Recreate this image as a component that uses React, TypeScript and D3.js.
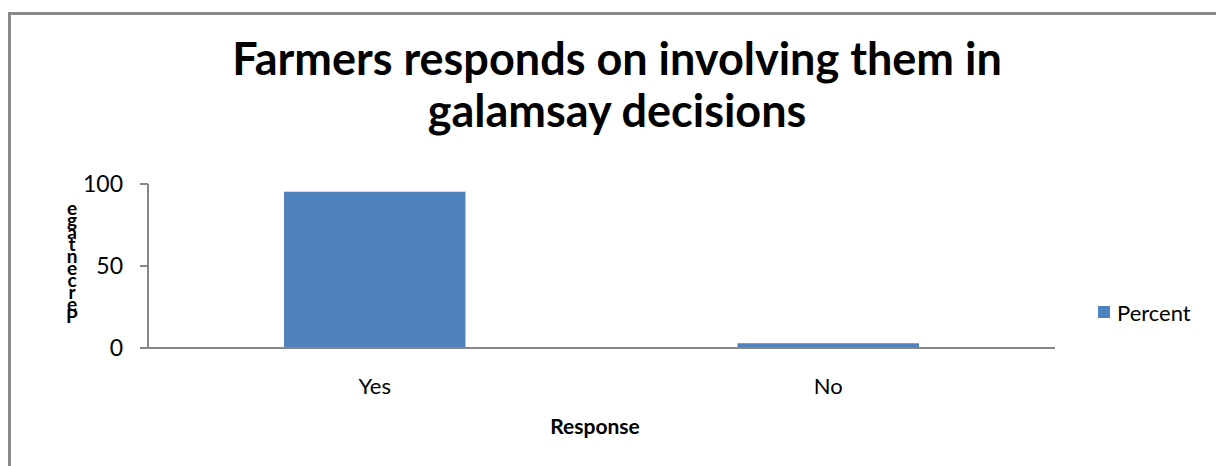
import React from "react";
import * as d3 from "d3";

const categories = ["Yes", "No"];
const percentValues = [95.3, 2.9];
const yTicks = [0, 50, 100];
const titleLines = ["Farmers responds on involving them in", "galamsay decisions"];
const yLabel = "Percentage";
const xLabel = "Response";
const seriesName = "Percent";

export default function App() {
  const W = 1216, H = 466;
  const left = 148, right = 1055, top = 184, bottom = 348;
  const x = d3.scaleBand<string>().domain(categories).range([left, right]).paddingInner(0.6).paddingOuter(0.3);
  const y = d3.scaleLinear().domain([0, 100]).range([bottom, top]);
  const font = "Lato, 'Open Sans', sans-serif";
  const axisColor = "#868686";
  const barColor = "#4f81bd";
  const letters = yLabel.split("");
  return (
    <svg width={W} height={H} style={{ position: "absolute", left: 0, top: 0 }}>
      <rect x={0} y={0} width={W} height={H} fill="#fff" />
      <rect x={9.5} y={13.5} width={W + 20} height={H + 20} fill="none" stroke="#898989" strokeWidth={3} />
      {titleLines.map((t, i) => (
        <text key={i} x={617} y={75 + i * 52} textAnchor="middle" fontFamily={font} fontWeight="bold" fontSize={45} fill="#000">{t}</text>
      ))}
      {categories.map((c, i) => (
        <rect key={c} x={x(c)!} y={y(percentValues[i])} width={x.bandwidth()} height={bottom - y(percentValues[i])} fill={barColor} />
      ))}
      <line x1={left} x2={left} y1={top} y2={bottom + 1} stroke={axisColor} strokeWidth={2} />
      {yTicks.map((t) => (
        <g key={t}>
          <line x1={left - 8} x2={left} y1={y(t)} y2={y(t)} stroke={axisColor} strokeWidth={2} />
          <text x={123} y={y(t) + 8} textAnchor="end" fontFamily={font} fontSize={23} fill="#000">{t}</text>
        </g>
      ))}
      <line x1={left} x2={right} y1={bottom} y2={bottom} stroke={axisColor} strokeWidth={2} />
      {categories.map((c) => (
        <text key={c} x={x(c)! + x.bandwidth() / 2} y={394} textAnchor="middle" fontFamily={font} fontSize={22} fill="#000">{c}</text>
      ))}
      <text x={595} y={434} textAnchor="middle" fontFamily={font} fontWeight="bold" fontSize={21} fill="#000">{xLabel}</text>
      {letters.map((ch, i) => (
        <text key={i} x={72} y={323 - i * 12} textAnchor="middle" fontFamily={font} fontWeight="bold" fontSize={19} fill="#000">{ch}</text>
      ))}
      <rect x={1098} y={306} width={12} height={12} fill={barColor} />
      <text x={1117} y={321} fontFamily={font} fontSize={22} fill="#000">{seriesName}</text>
    </svg>
  );
}
